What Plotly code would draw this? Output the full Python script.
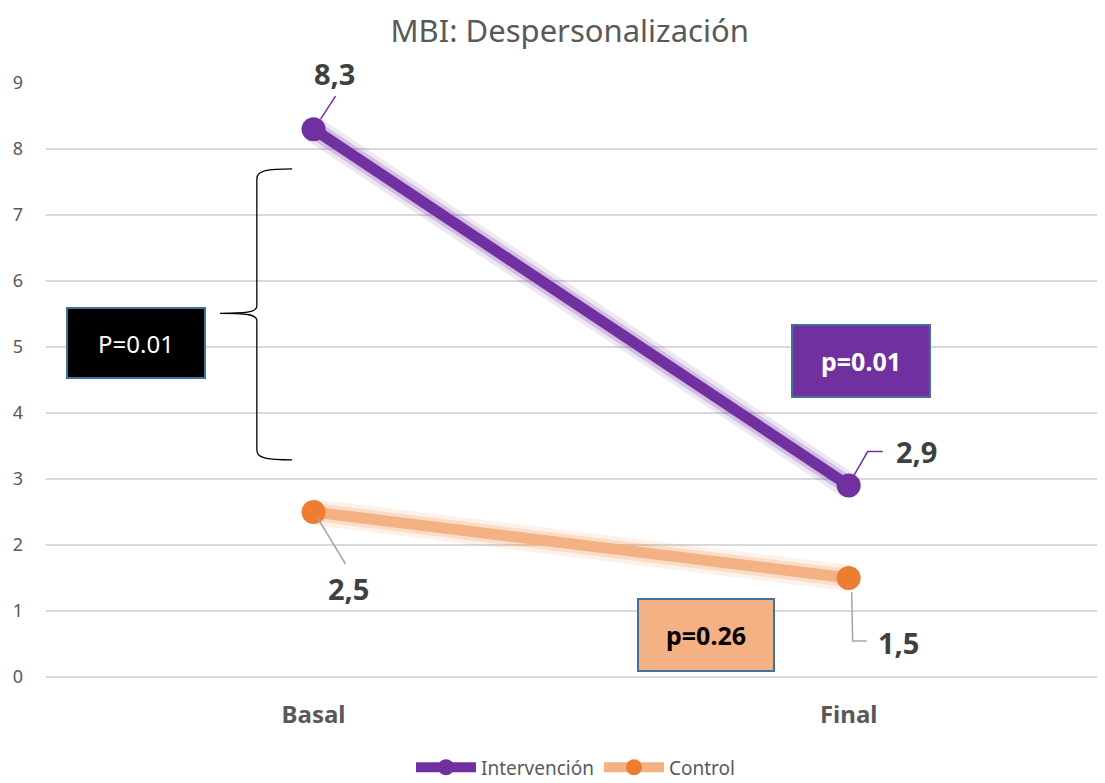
import plotly.graph_objects as go

categories = ["Basal", "Final"]
x_pos = [0, 1]
intervencion = [8.3, 2.9]
control = [2.5, 1.5]
int_labels = ["8,3", "2,9"]
ctrl_labels = ["2,5", "1,5"]

PURPLE = "#7030A0"
ORANGE = "#ED7D31"
LIGHT_ORANGE = "#F4B183"
GREY = "#595959"
DARK = "#404040"
FONT = "Noto Sans"

fig = go.Figure()

# glow / shadow layers
fig.add_trace(go.Scatter(x=x_pos, y=intervencion, mode="lines",
                         line=dict(color="rgba(112,48,160,0.12)", width=26),
                         showlegend=False, hoverinfo="skip"))
fig.add_trace(go.Scatter(x=x_pos, y=intervencion, mode="lines",
                         line=dict(color="rgba(112,48,160,0.22)", width=18),
                         showlegend=False, hoverinfo="skip"))
fig.add_trace(go.Scatter(x=x_pos, y=control, mode="lines",
                         line=dict(color="rgba(237,125,49,0.10)", width=26),
                         showlegend=False, hoverinfo="skip"))
fig.add_trace(go.Scatter(x=x_pos, y=control, mode="lines",
                         line=dict(color="rgba(237,125,49,0.18)", width=18),
                         showlegend=False, hoverinfo="skip"))

fig.add_trace(go.Scatter(x=x_pos, y=intervencion, mode="lines+markers", name="Intervención",
                         line=dict(color=PURPLE, width=11),
                         marker=dict(color=PURPLE, size=24)))
fig.add_trace(go.Scatter(x=x_pos, y=control, mode="lines+markers", name="Control",
                         line=dict(color=LIGHT_ORANGE, width=11),
                         marker=dict(color=ORANGE, size=24)))

# data labels with leader lines (offsets in pixels from the data point)
label_specs = [
    (x_pos[0], intervencion[0], int_labels[0], 21, 56, "M7,10 L22,33", PURPLE),
    (x_pos[1], intervencion[1], int_labels[1], 68, 34, "M4,8 L19,34 L34,34", PURPLE),
    (x_pos[0], control[0], ctrl_labels[0], 35, -76, "M4,-6 L32,-52", "#A6A6A6"),
    (x_pos[1], control[1], ctrl_labels[1], 50, -64, "M3,-14 L4,-63 L18,-63", "#A6A6A6"),
]
for xv, yv, txt, dx, dy, path, lc in label_specs:
    fig.add_shape(type="path", xref="x", yref="y", xsizemode="pixel", ysizemode="pixel",
                  xanchor=xv, yanchor=yv, path=path, line=dict(color=lc, width=1.5))
    fig.add_annotation(x=xv, y=yv, text=f"<b>{txt}</b>", showarrow=False,
                       xshift=dx, yshift=dy, font=dict(family=FONT, size=29, color=DARK))

# brace
fig.add_shape(type="path", xref="x", yref="y",
              path=("M -0.040,7.70 C -0.085,7.70 -0.106,7.68 -0.106,7.55 "
                    "L -0.106,5.62 C -0.106,5.52 -0.130,5.51 -0.175,5.51 "
                    "C -0.130,5.51 -0.106,5.50 -0.106,5.40 "
                    "L -0.106,3.44 C -0.106,3.31 -0.085,3.29 -0.040,3.29"),
              line=dict(color="black", width=1.3))

# p-value boxes
fig.add_annotation(x=-0.332, y=5.06, text="P=0.01", showarrow=False,
                   width=134, height=66, bgcolor="black", bordercolor="#41719C", borderwidth=2,
                   font=dict(family=FONT, size=24, color="white"))
fig.add_annotation(x=1.023, y=4.79, text="<b>p=0.01</b>", showarrow=False,
                   width=134, height=68, bgcolor=PURPLE, bordercolor="#41719C", borderwidth=2,
                   font=dict(family=FONT, size=25, color="white"))
fig.add_annotation(x=0.733, y=0.634, text="<b>p=0.26</b>", showarrow=False,
                   width=132, height=68, bgcolor=LIGHT_ORANGE, bordercolor="#41719C", borderwidth=2,
                   font=dict(family=FONT, size=25, color="black"))

fig.update_layout(
    width=1097, height=775,
    paper_bgcolor="white", plot_bgcolor="white",
    margin=dict(l=38, r=0, t=74, b=105, autoexpand=False),
    title=dict(text="MBI: Despersonalización", x=0.512, xanchor="center", y=0.97, yanchor="middle",
               font=dict(family=FONT, size=31, color=GREY)),
    font=dict(family=FONT, color=GREY),
    xaxis=dict(range=[-0.5, 1.479], tickvals=x_pos, ticktext=[f"<b>{c}</b>" for c in categories],
               showgrid=False, zeroline=False, showline=False, ticks="", ticklabelstandoff=20,
               tickfont=dict(family=FONT, size=24, color=GREY)),
    yaxis=dict(range=[-0.015, 9.015], dtick=1, showgrid=True, gridcolor="#D9D9D9", gridwidth=1.5,
               zeroline=True, zerolinecolor="#D9D9D9", zerolinewidth=1.5,
               showline=False, ticks="", ticklabelstandoff=22,
               tickfont=dict(family=FONT, size=18, color=GREY)),
    legend=dict(orientation="h", x=0.5, xanchor="center", y=-0.150, yanchor="middle",
                itemwidth=60, font=dict(family=FONT, size=19, color=GREY)),
)

fig.write_html("out.html")
